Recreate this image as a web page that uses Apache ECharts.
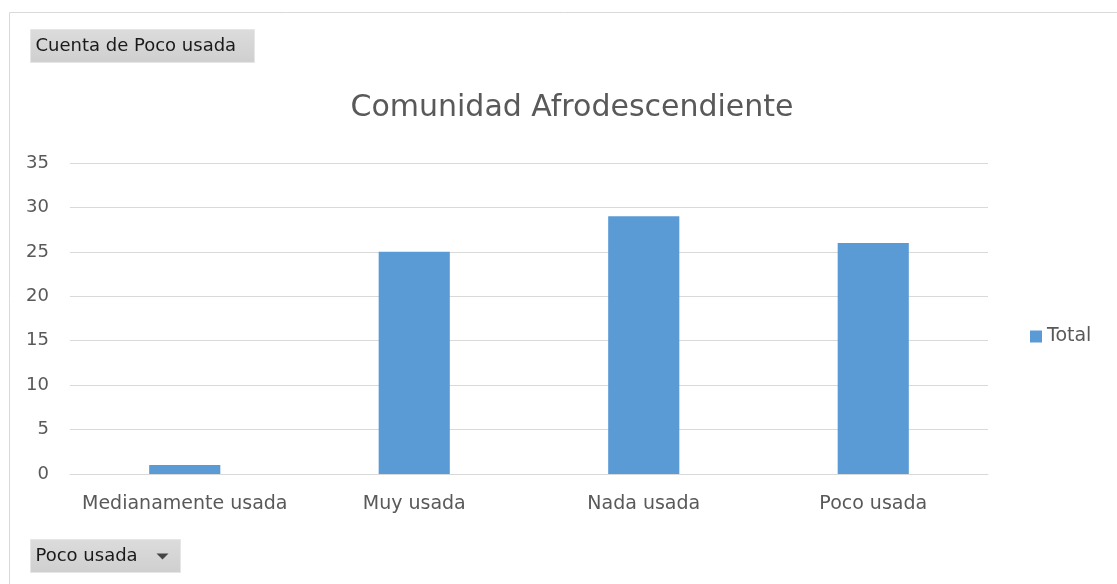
<!DOCTYPE html>
<html>
<head>
<meta charset="utf-8">
<script src="https://cdn.jsdelivr.net/npm/echarts@6/dist/echarts.min.js"></script>
<style>
  html, body { margin: 0; padding: 0; background: #fff; }
  #chart { width: 1117px; height: 584px; }
</style>
</head>
<body>
<div id="chart"></div>
<script>
// datos
const categorias = ['Medianamente usada', 'Muy usada', 'Nada usada', 'Poco usada']
const totales = [1, 25, 29, 26]
const ticksY = [0, 5, 10, 15, 20, 25, 30, 35]

const fuente = 'DejaVu Sans'
const chart = echarts.init(document.getElementById('chart'))

const option = {
    animation: false,
    title: {
        text: 'Comunidad Afrodescendiente',
        left: 567,
        top: 88,
        textAlign: 'center',
        textStyle: { fontFamily: fuente, fontSize: 30, fontWeight: 'normal', color: '#595959' }
    },
    legend: {
        data: ['Total'],
        orient: 'vertical',
        left: 1025,
        top: 322,
        itemWidth: 12,
        itemHeight: 12,
        itemGap: 5,
        icon: 'rect',
        textStyle: { fontFamily: fuente, fontSize: 19, color: '#595959' }
    },
    grid: {
        left: 70,
        right: 1117 - 988,
        top: 163,
        bottom: 584 - 474,
        containLabel: false
    },
    xAxis: {
        type: 'category',
        data: categorias,
        axisLine: { lineStyle: { color: '#D9D9D9', width: 1 } },
        axisTick: { show: false },
        axisLabel: { interval: 0, fontFamily: fuente, fontSize: 19, color: '#595959', margin: 21 }
    },
    yAxis: {
        type: 'value',
        min: ticksY[0],
        max: ticksY[ticksY.length - 1],
        interval: 5,
        axisLine: { show: false },
        axisTick: { show: false },
        splitLine: { lineStyle: { color: '#D9D9D9', width: 1 } },
        axisLabel: { fontFamily: fuente, fontSize: 18, color: '#595959', margin: 21 }
    },
    series: [{
        name: 'Total',
        type: 'bar',
        barWidth: '31%',
        itemStyle: { color: '#5B9BD5' },
        data: totales
    }],
    graphic: [
        // borde del area del grafico
        {
            type: 'rect',
            shape: { x: 9.5, y: 12.5, width: 1200, height: 700 },
            style: { fill: 'none', stroke: '#D9D9D9', lineWidth: 1 },
            silent: true
        },
        // botones de campo de la tabla dinamica
        {
            type: 'group',
            left: 30,
            top: 29,
            children: [
                {
                    type: 'rect',
                    shape: { x: 0, y: 0, width: 224, height: 33 },
                    style: {
                        fill: new echarts.graphic.LinearGradient(0, 0, 0, 1, [
                            { offset: 0, color: '#DCDCDC' },
                            { offset: 1, color: '#CFCFCF' }
                        ]),
                        stroke: '#E6E6E6'
                    }
                },
                {
                    type: 'text',
                    x: 5,
                    y: 17,
                    style: { text: 'Cuenta de Poco usada', fontFamily: fuente, fontSize: 18, fill: '#1a1a1a', verticalAlign: 'middle' }
                }
            ]
        },
        {
            type: 'group',
            left: 30,
            top: 539,
            children: [
                {
                    type: 'rect',
                    shape: { x: 0, y: 0, width: 150, height: 33 },
                    style: {
                        fill: new echarts.graphic.LinearGradient(0, 0, 0, 1, [
                            { offset: 0, color: '#DCDCDC' },
                            { offset: 1, color: '#CFCFCF' }
                        ]),
                        stroke: '#E6E6E6'
                    }
                },
                {
                    type: 'text',
                    x: 5,
                    y: 17,
                    style: { text: 'Poco usada', fontFamily: fuente, fontSize: 18, fill: '#1a1a1a', verticalAlign: 'middle' }
                },
                {
                    type: 'polygon',
                    shape: { points: [[126, 14], [138, 14], [132, 20]] },
                    style: { fill: '#444' }
                }
            ]
        }
    ]
}
chart.setOption(option)
</script>
</body>
</html>
